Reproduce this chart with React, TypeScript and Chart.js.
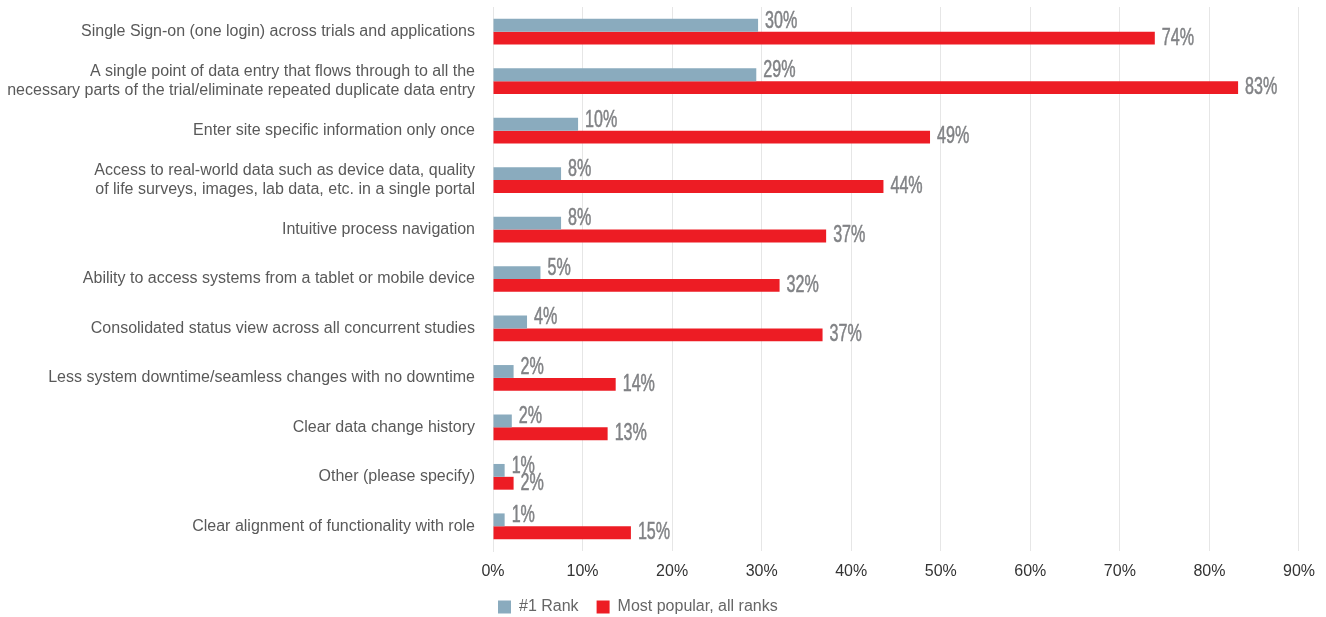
import React, { useEffect, useRef } from "react";
import { Chart, registerables } from "chart.js";

Chart.register(...registerables);

const categories: (string | string[])[] = [
  "Single Sign-on (one login) across trials and applications",
  ["A single point of data entry that flows through to all the", "necessary parts of the trial/eliminate repeated duplicate data entry"],
  "Enter site specific information only once",
  ["Access to real-world data such as device data, quality", "of life surveys, images, lab data, etc. in a single portal"],
  "Intuitive process navigation",
  "Ability to access systems from a tablet or mobile device",
  "Consolidated status view across all concurrent studies",
  "Less system downtime/seamless changes with no downtime",
  "Clear data change history",
  "Other (please specify)",
  "Clear alignment of functionality with role",
];

const rankFirst = [29.6, 29.4, 9.5, 7.6, 7.6, 5.3, 3.8, 2.3, 2.1, 1.3, 1.3];
const allRanks = [73.9, 83.2, 48.8, 43.6, 37.2, 32.0, 36.8, 13.7, 12.8, 2.3, 15.4];

const seriesNames = ["#1 Rank", "Most popular, all ranks"];
const xTicks = [0, 10, 20, 30, 40, 50, 60, 70, 80, 90];

const BLUE = "#8aabbe";
const RED = "#ed1c24";

const valueLabels = {
  id: "valueLabels",
  afterLayout(chart: any) {
    if (chart.legend) {
      chart.legend.left -= 13;
      chart.legend.right -= 13;
    }
  },
  afterDatasetsDraw(chart: any) {
    const ctx = chart.ctx;
    const sx = 0.7;
    chart.data.datasets.forEach((ds: any, di: number) => {
      const meta = chart.getDatasetMeta(di);
      meta.data.forEach((bar: any, i: number) => {
        const v = ds.data[i];
        const txt = Math.round(v) + "%";
        ctx.save();
        ctx.font = "23px 'Liberation Sans', Arial, sans-serif";
        ctx.fillStyle = "#808285";
        ctx.strokeStyle = "#808285";
        ctx.lineWidth = 0.5;
        ctx.textBaseline = "middle";
        ctx.textAlign = "left";
        ctx.translate(bar.x + 7, bar.y + (di === 0 ? -4 : 0));
        ctx.scale(sx, 1);
        ctx.fillText(txt, 0, 0);
        ctx.strokeText(txt, 0, 0);
        ctx.restore();
      });
    });
  },
};

export default function App() {
  const ref = useRef<HTMLCanvasElement>(null);
  useEffect(() => {
    if (!ref.current) return;
    const chart = new Chart(ref.current, {
      type: "bar",
      data: {
        labels: categories as any,
        datasets: [
          { label: seriesNames[0], data: rankFirst, backgroundColor: BLUE, barPercentage: 1, categoryPercentage: 0.52 },
          { label: seriesNames[1], data: allRanks, backgroundColor: RED, barPercentage: 1, categoryPercentage: 0.52 },
        ],
      },
      options: {
        indexAxis: "y",
        animation: false,
        responsive: false,
        devicePixelRatio: 1,
        layout: { padding: { top: 7, right: 26, left: 0, bottom: 0 } },
        scales: {
          x: {
            min: 0,
            max: 90,
            afterBuildTicks(axis: any) {
              axis.ticks = xTicks.map((v) => ({ value: v }));
            },
            afterFit(axis: any) {
              axis.height = 30;
            },
            ticks: {
              callback: (v: any) => v + "%",
              color: "#333333",
              font: { family: "'Liberation Sans', Arial, sans-serif", size: 16 },
              padding: 11,
            },
            grid: { color: "#e6e6e6", drawTicks: false, lineWidth: 1 },
            border: { display: false },
          },
          y: {
            afterFit(axis: any) {
              axis.width = 493;
              axis.paddingTop = 0;
              axis.paddingBottom = 0;
            },
            ticks: {
              color: "#595959",
              font: { family: "'Liberation Sans', Arial, sans-serif", size: 16 },
              padding: 18,
            },
            grid: { display: false, drawTicks: false },
            border: { display: true, color: "#e6e6e6" },
          },
        },
        plugins: {
          tooltip: { enabled: false },
          legend: {
            position: "bottom",
            align: "start",
            fullSize: false,
            labels: {
              boxWidth: 13,
              boxHeight: 13,
              color: "#666666",
              font: { family: "'Liberation Sans', Arial, sans-serif", size: 16 },
              padding: 18,
            },
          },
        },
      },
      plugins: [valueLabels],
    });
    return () => chart.destroy();
  }, []);
  return (
    <div style={{ position: "absolute", left: 0, top: 0, width: 1326, height: 617, overflow: "hidden" }}>
      <canvas ref={ref} width={1326} height={625} style={{ display: "block" }} />
    </div>
  );
}
